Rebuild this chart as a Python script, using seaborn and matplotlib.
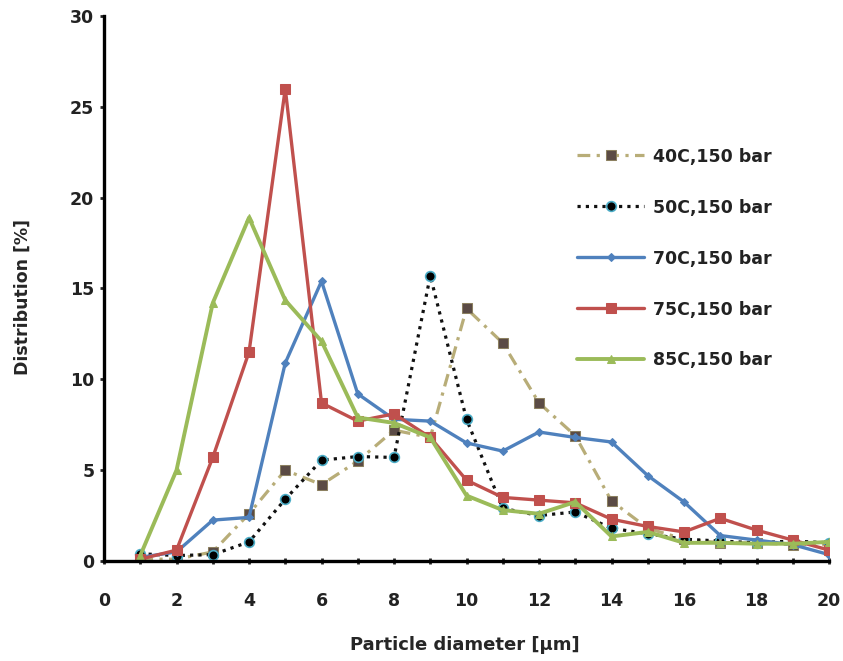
import numpy as np
import pandas as pd
import seaborn as sns
import matplotlib.pyplot as plt
from matplotlib.ticker import MultipleLocator

# particle diameter [um]
diameter = list(range(1, 21))

dist_40c = [0.1, 0.1, 0.5, 2.6, 5.0, 4.2, 5.5, 7.2, 6.8, 13.9,
            12.0, 8.7, 6.9, 3.3, 1.8, 1.2, 1.0, 1.0, 0.9, 0.9]
dist_50c = [0.4, 0.3, 0.35, 1.05, 3.4, 5.55, 5.75, 5.7, 15.7, 7.8,
            2.9, 2.5, 2.7, 1.8, 1.5, 1.2, 1.1, 1.0, 1.1, 1.0]
dist_70c = [0.2, 0.5, 2.25, 2.4, 10.9, 15.4, 9.2, 7.8, 7.7, 6.5,
            6.05, 7.1, 6.8, 6.55, 4.7, 3.25, 1.4, 1.15, 0.9, 0.35]
dist_75c = [0.1, 0.6, 5.7, 11.5, 26.0, 8.7, 7.7, 8.1, 6.8, 4.45,
            3.5, 3.35, 3.2, 2.3, 1.9, 1.6, 2.35, 1.7, 1.15, 0.6]
dist_85c = [0.3, 5.0, 14.2, 18.9, 14.35, 12.1, 7.9, 7.6, 6.8, 3.6,
            2.8, 2.6, 3.25, 1.35, 1.6, 1.0, 1.0, 0.95, 0.95, 1.05]

labels = ["40C,150 bar", "50C,150 bar", "70C,150 bar", "75C,150 bar", "85C,150 bar"]


def plot_distribution(output_file="out.png"):
    sns.set_style("white")
    plt.rcParams["font.family"] = ["DejaVu Sans"]

    fig = plt.figure(figsize=(8.43, 6.61), dpi=100)
    ax = fig.add_axes([0.1234, 0.1513, 0.86, 0.8245])

    series = [
        (dist_40c, dict(color="#B8AD78", marker="s", markersize=6.5,
                        markerfacecolor="#5B4B45", markeredgecolor="#8C8060",
                        linestyle=(0, (4, 2, 1, 2)), linewidth=2.3)),
        (dist_50c, dict(color="#111111", marker="o", markersize=7,
                        markerfacecolor="#000000", markeredgecolor="#4BACC6",
                        markeredgewidth=1.2,
                        linestyle=(0, (1, 1.6)), linewidth=2.3)),
        (dist_70c, dict(color="#4F81BD", marker="D", markersize=4.5,
                        markeredgecolor="#4F81BD",
                        linestyle="-", linewidth=2.4)),
        (dist_75c, dict(color="#C0504D", marker="s", markersize=7,
                        markeredgecolor="#C0504D",
                        linestyle="-", linewidth=2.4)),
        (dist_85c, dict(color="#9BBB59", marker="^", markersize=5.5,
                        markeredgecolor="#9BBB59",
                        linestyle="-", linewidth=2.8)),
    ]

    for (values, style), label in zip(series, labels):
        df = pd.DataFrame({"diameter": diameter, "dist": values})
        sns.lineplot(data=df, x="diameter", y="dist", ax=ax, label=label,
                     **style)

    ax.set_xlim(0, 20)
    ax.set_ylim(0, 30)
    ax.xaxis.set_major_locator(MultipleLocator(2))
    ax.xaxis.set_minor_locator(MultipleLocator(1))
    ax.yaxis.set_major_locator(MultipleLocator(5))

    for side in ["top", "right"]:
        ax.spines[side].set_visible(False)
    for side in ["left", "bottom"]:
        ax.spines[side].set_linewidth(2.4)
        ax.spines[side].set_color("black")

    ax.tick_params(axis="x", which="both", direction="inout", length=5,
                   width=2, bottom=True, pad=20)
    ax.tick_params(axis="y", which="both", direction="out", length=3,
                   width=2, left=True, pad=4)
    for lbl in ax.get_xticklabels() + ax.get_yticklabels():
        lbl.set_fontsize(12.5)
        lbl.set_fontweight("bold")
        lbl.set_color("#222222")

    ax.set_xlabel("Particle diameter [µm]", fontsize=13, fontweight="bold")
    ax.set_ylabel("Distribution [%]", fontsize=12.5, fontweight="bold")
    ax.xaxis.set_label_coords(0.498, -0.137)
    ax.yaxis.set_label_coords(-0.1, 0.485)

    leg = ax.legend(loc="center left", bbox_to_anchor=(0.652, 0.555),
                    frameon=False, borderpad=0, borderaxespad=0,
                    handlelength=3.9, handletextpad=0.5, labelspacing=1.9,
                    prop={"size": 12.5, "weight": "bold"})
    for text in leg.get_texts():
        text.set_color("#222222")

    plt.savefig(output_file, dpi=100)
    plt.close()


if __name__ == "__main__":
    plot_distribution()
